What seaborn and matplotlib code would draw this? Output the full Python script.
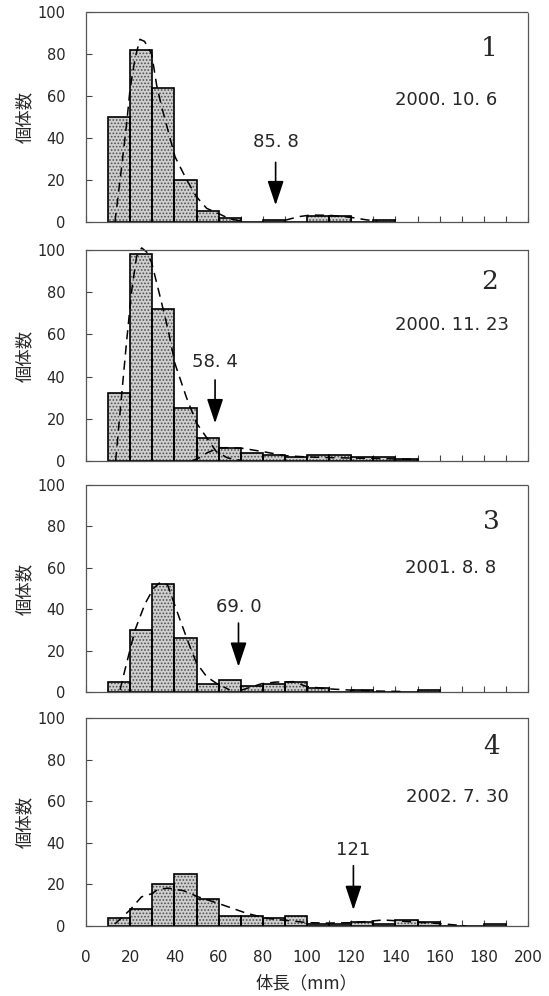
import numpy as np
import pandas as pd
import matplotlib
matplotlib.use("Agg")
import matplotlib.pyplot as plt
import seaborn as sns

# ---------------- data ----------------
bin_start = 10
bin_width = 10

counts_1 = [50, 82, 64, 20, 5, 2, 0, 1, 0, 3, 3, 0, 1]
counts_2 = [32, 98, 72, 25, 11, 6, 4, 3, 2, 3, 3, 2, 2, 1]
counts_3 = [5, 30, 52, 26, 4, 6, 3, 4, 5, 2, 0, 1, 0, 0, 1]
counts_4 = [4, 8, 20, 25, 13, 5, 5, 4, 5, 1, 1, 2, 1, 3, 2, 0, 0, 1]

# fitted curves
curve_1a_x = [13.1, 16.1, 18.4, 19.9, 22.2, 24.4, 26.5, 29.7, 32, 34.2, 38, 40.3, 45.6, 50, 54.6, 60, 65, 70]
curve_1a_y = [0, 26, 47, 63, 78, 87, 86, 80, 65, 55, 40, 31, 20, 12, 6.5, 4, 1.5, 0.5]
curve_1b_x = [90, 96, 101.5, 110, 120, 127, 132]
curve_1b_y = [0.8, 2.5, 3.3, 3.2, 2.2, 1.0, 0.5]

curve_2a_x = [13.4, 16.1, 18.4, 20.7, 22.9, 25.2, 27.5, 29.7, 33.5, 37.2, 40.3, 45.5, 50, 55.3, 59, 64, 70]
curve_2a_y = [0, 31, 57, 81, 97, 101, 99, 94, 78, 62, 46, 30, 18, 10, 4.4, 1.5, 0.3]
curve_2b_x = [47.8, 51.4, 55, 60.6, 65, 70.9, 80.3, 90.1, 100.6, 110, 120, 130, 140, 150]
curve_2b_y = [0, 1.6, 4, 6.3, 6.3, 6, 4.4, 2.5, 1.9, 1.6, 1.4, 1.2, 1.0, 0.8]

curve_3a_x = [15.4, 17.6, 22.2, 26.7, 30.5, 33, 35, 37, 39.5, 42.5, 47, 50, 54.6, 59, 65]
curve_3a_y = [1, 10.6, 30, 42.6, 50, 52.5, 53, 51.5, 44, 35, 22, 14, 7.4, 4.2, 1]
curve_3b_x = [70, 79.5, 86, 93.8, 99.9, 110, 120, 130, 145]
curve_3b_y = [0.8, 4, 4.8, 5, 2.6, 1.5, 0.9, 0.5, 0.2]

curve_4_x = [13.1, 19.9, 25.1, 29.7, 32.7, 37.2, 44, 50.8, 60.6, 72.7, 81.8, 88.5, 100.6, 110, 121, 134.5, 142, 149.6, 159.4, 165, 172]
curve_4_y = [1.0, 7.7, 14, 15.5, 17.7, 18.2, 17, 14, 10.6, 6.1, 3.7, 2.9, 1.6, 1.4, 1.6, 2.9, 2.4, 1.8, 1.2, 0.7, 0]

dates = ["2000. 10. 6", "2000. 11. 23", "2001. 8. 8", "2002. 7. 30"]
panel_numbers = ["1", "2", "3", "4"]
arrow_x = [85.8, 58.4, 69.0, 121]
arrow_labels = ["85. 8", "58. 4", "69. 0", "121"]

y_ticks = [0, 20, 40, 60, 80, 100]
x_ticks = [0, 20, 40, 60, 80, 100, 120, 140, 160, 180, 200]
y_label = "個体数"
x_label = "体長（mm）"

# ---------------- style ----------------
sns.set_style("ticks")
plt.rcParams['font.family'] = ['DejaVu Sans', 'Noto Sans CJK JP']
plt.rcParams['hatch.linewidth'] = 0.8

W, H = 549, 996
fig = plt.figure(figsize=(W / 100, H / 100), dpi=100)

ax_left, ax_right = 86, 528
panel_px = [(12, 222), (250, 461), (485, 692), (718, 926)]

counts_all = [counts_1, counts_2, counts_3, counts_4]
curves_all = [
    [(curve_1a_x, curve_1a_y), (curve_1b_x, curve_1b_y)],
    [(curve_2a_x, curve_2a_y), (curve_2b_x, curve_2b_y)],
    [(curve_3a_x, curve_3a_y), (curve_3b_x, curve_3b_y)],
    [(curve_4_x, curve_4_y)],
]
date_pos = [(139.8, 58.3), (139.8, 64.5), (144.3, 60.0), (144.8, 62.0)]
num_pos = [(182.5, 82.5), (182.5, 85.0), (183.5, 82.3), (183.5, 86.2)]
arrow_top = [28.4, 38.4, 33.3, 29.0]
arrow_tip = [8.0, 17.9, 12.2, 7.7]
label_y = [38.0, 47.0, 41.0, 36.5]

for i, (top, bot) in enumerate(panel_px):
    ax = fig.add_axes([ax_left / W, 1 - bot / H, (ax_right - ax_left) / W, (bot - top) / H])
    counts = counts_all[i]
    edges = [bin_start + bin_width * k for k in range(len(counts) + 1)]
    mids = [bin_start + bin_width * k + bin_width / 2 for k in range(len(counts))]
    df = pd.DataFrame({"length": mids, "n": counts})

    # stippled fill
    sns.histplot(data=df, x="length", weights="n", bins=edges, ax=ax,
                 color="#cfcfcf", edgecolor="#505050", linewidth=0,
                 hatch=".....", alpha=1)
    # outlines
    sns.histplot(data=df, x="length", weights="n", bins=edges, ax=ax,
                 fill=False, color="black", linewidth=1.2)

    for cx, cy in curves_all[i]:
        cdf = pd.DataFrame({"x": cx, "y": cy})
        sns.lineplot(data=cdf, x="x", y="y", ax=ax, color="black",
                     linewidth=1.1, sort=True, clip_on=False,
                     linestyle=(0, (6, 4)))

    ax.set_xlim(0, 200)
    ax.set_ylim(0, 100)
    ax.set_yticks(y_ticks)
    ax.set_xticks(x_ticks)
    ax.set_xticks(list(range(10, 200, 20)), minor=True)
    ax.tick_params(axis='both', which='both', direction='in', length=4,
                   width=0.8, color='#444444')
    ax.tick_params(axis='y', labelsize=10.5, pad=15)
    if i == 3:
        ax.tick_params(axis='x', labelsize=11, pad=17)
        ax.set_xlabel("")
    else:
        ax.tick_params(axis='x', labelbottom=False)
        ax.set_xlabel("")
    ax.set_ylabel(y_label, fontsize=12.5, family=['Noto Sans CJK JP'])
    ax.yaxis.set_label_coords(-(ax_left - 34) / (ax_right - ax_left), 0.5)

    for side in ['left', 'right', 'top', 'bottom']:
        sp = ax.spines[side]
        sp.set_visible(True)
        sp.set_color('#555555')
        sp.set_linewidth(0.9)
        sp.set_linestyle((0, (1, 1)))

    ax.text(date_pos[i][0], date_pos[i][1], dates[i], fontsize=13,
            ha='left', va='center')
    ax.text(num_pos[i][0], num_pos[i][1], panel_numbers[i], fontsize=19,
            family=['DejaVu Serif'], ha='center', va='center')
    ax.annotate("", xy=(arrow_x[i], arrow_tip[i]), xytext=(arrow_x[i], arrow_top[i]),
                arrowprops=dict(arrowstyle="-|>,head_length=1.5,head_width=0.5",
                                color='black', lw=1.2, shrinkA=0, shrinkB=0,
                                mutation_scale=10))
    ax.text(arrow_x[i], label_y[i], arrow_labels[i], fontsize=13,
            ha='center', va='center')

fig.text(307 / W, 1 - 983 / H, x_label, fontsize=12.5, ha='center', va='center',
         family=['Noto Sans CJK JP'])

fig.savefig("out.png", dpi=100)
